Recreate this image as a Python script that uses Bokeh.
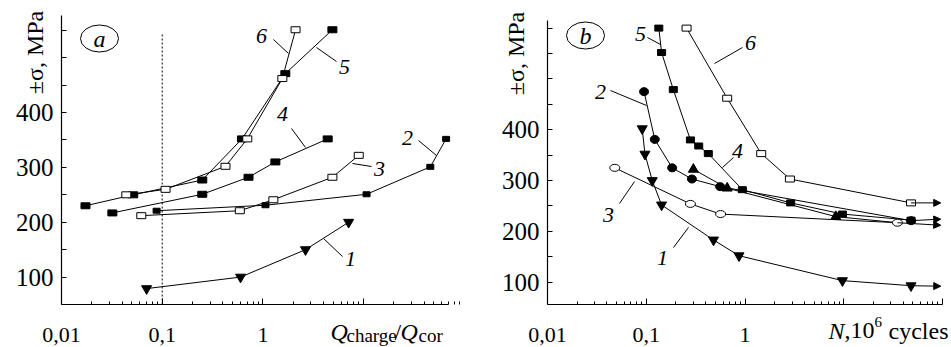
import math
from bokeh.plotting import figure
from bokeh.layouts import row
from bokeh.models import Range1d, FixedTicker, Arrow, NormalHead
from bokeh.embed import file_html
from bokeh.resources import INLINE
from bokeh.core.properties import value

# ---------------- data: panel a (stress vs Q_charge/Q_cor) ----------------
A1_X = [0.070, 0.60, 2.65, 7.1]
A1_Y = [79, 100, 150, 200]
A2_X = [0.088, 1.06, 10.7, 46, 66]
A2_Y = [221, 231, 251, 301, 352]
A3_X = [0.062, 0.59, 1.27, 4.9, 8.95]
A3_Y = [212, 221, 241, 282, 322]
A4_X = [0.032, 0.25, 0.72, 1.33, 4.4]
A4_Y = [217, 251, 282, 310, 352]
A5_X = [0.0173, 0.0515, 0.25, 0.62, 1.67, 4.9]
A5_Y = [230, 250, 277, 352, 471, 551]
A6_X = [0.044, 0.108, 0.425, 0.70, 1.56, 2.11]
A6_Y = [250, 260, 302, 352, 462, 551]
A_REF_X = 0.1
A_REF_Y = [50, 545]

# ---------------- data: panel b (stress vs N, 10^6 cycles) ----------------
B1_X = [0.091, 0.097, 0.115, 0.143, 0.48, 0.87, 9.7, 48]
B1_Y = [402, 352, 300, 252, 183, 152, 103, 93]
B2_X = [0.095, 0.122, 0.183, 0.29, 0.56, 48]
B2_Y = [475, 381, 325, 303, 288, 221]
B3_X = [0.048, 0.28, 0.566, 35]
B3_Y = [325, 254, 234, 217]
B4_X = [0.30, 0.66, 8.3, 35]
B4_Y = [322, 285, 229, 217]
B5_X = [0.134, 0.143, 0.188, 0.28, 0.34, 0.425, 0.94, 2.9, 9.7, 48]
B5_Y = [600, 552, 479, 380, 368, 353, 282, 256, 234, 222]
B6_X = [0.256, 0.66, 1.46, 2.85, 48]
B6_Y = [600, 462, 353, 303, 256]
# run-outs (arrows): start = last point of series, end at N_END
B_RUNOUT_SERIES = ["1", "6", "2", "3"]
B_RUNOUT_END_Y = [92, 256, 224, 212]
N_END = 96

# ---------------- ticks ----------------
X_TICKS_A = [0.01, 0.1, 1, 10]
X_TICKS_B = [0.01, 0.1, 1, 10, 100]
X_TICK_LABELS = {0.01: "0,01", 0.1: "0,1", 1: "1", 10: "", 100: ""}
Y_TICKS_A = list(range(100, 551, 50))
Y_TICKS_B = list(range(100, 601, 50))
Y_LABELED = [100, 200, 300, 400]

SERIF = "Liberation Serif"

# layout (page pixels): where the axes sit in the window
FA = dict(off=0, w=475, left=61, right=448, top=15, bottom=304)
FB = dict(off=475, w=476, left=547, right=942, top=20, bottom=304)
H = 347
AX_A = ((0.01, 69.7), (50, 577))     # axis extents (x, y) panel a
AX_B = ((0.01, 100), (56, 615))      # axis extents (x, y) panel b


def geometry(fr, ax):
    (x0, x1), (y0, y1) = ax
    lx0, lx1 = math.log10(x0), math.log10(x1)
    kx = (lx1 - lx0) / (fr["right"] - fr["left"])
    ky = (y1 - y0) / (fr["bottom"] - fr["top"])

    def conv(px, py):
        return 10 ** (lx0 + (px - fr["left"]) * kx), y0 + (fr["bottom"] - py) * ky

    xa, yb = conv(fr["off"], H)
    xb, yt = conv(fr["off"] + fr["w"], 0)
    return conv, (xa, xb), (yb, yt)


def make_fig(fr, ax, xticks, yticks):
    conv, xr, yr = geometry(fr, ax)
    p = figure(width=fr["w"], height=H, x_axis_type="log",
               x_range=Range1d(*xr), y_range=Range1d(*yr),
               output_backend="svg", toolbar_location=None,
               min_border_left=0, min_border_right=0,
               min_border_top=0, min_border_bottom=0)
    p.outline_line_color = None
    p.grid.visible = False
    p.background_fill_color = "white"
    p.border_fill_color = "white"
    minors = [k * 10 ** d for d in range(-2, 3) for k in range(2, 10)]
    p.xaxis.ticker = FixedTicker(ticks=xticks, minor_ticks=minors)
    p.xaxis.major_label_overrides = {t: X_TICK_LABELS[t] for t in xticks}
    p.yaxis.ticker = FixedTicker(ticks=yticks, minor_ticks=[])
    p.yaxis.major_label_overrides = {t: (str(t) if t in Y_LABELED else "") for t in yticks}
    p.xaxis.fixed_location = ax[1][0]
    p.xaxis.bounds = ax[0]
    p.yaxis.fixed_location = ax[0][0]
    p.yaxis.bounds = ax[1]
    for a in (p.xaxis, p.yaxis):
        a.axis_line_color = "black"
        a.axis_line_width = 1.2
        a.major_tick_line_color = "black"
        a.minor_tick_line_color = "black"
        a.major_tick_out = 0
        a.minor_tick_out = 0
        a.major_label_text_font = SERIF
        a.major_label_text_color = "black"
    p.xaxis.major_tick_in = 6
    p.xaxis.minor_tick_in = 3
    p.yaxis.major_tick_in = 5
    p.xaxis.major_label_text_font_size = "22px"
    p.yaxis.major_label_text_font_size = "25px"
    p.xaxis.major_label_standoff = 23
    p.yaxis.major_label_standoff = 8
    return p, conv


def rect_marks(p, x, y, filled, w=9, h=6):
    p.rect(x, y, width=w, height=h, width_units="screen", height_units="screen",
           fill_color="black" if filled else "white", line_color="black", line_width=1)


def ell_marks(p, x, y, filled, w=10, h=8):
    p.ellipse(x, y, width=w, height=h, width_units="screen", height_units="screen",
              fill_color="black" if filled else "white", line_color="black", line_width=1)


def tri_marks(p, x, y, marker):
    p.scatter(x, y, marker=marker, size=10, fill_color="black", line_color="black")


def put_text(p, conv, t, px, py, size, style="normal", align="center",
             baseline="middle", angle=0.0):
    x, y = conv(px, py)
    p.text([x], [y], text=[t], text_font=value(SERIF), text_font_style=style,
           text_font_size=size, text_align=align, text_baseline=baseline,
           angle=angle, text_color="black")


def annotate(p, conv, labels, leaders, circle, letter, ytitle_pos):
    for (t, px, py) in labels:
        put_text(p, conv, t, px, py, "22px", "italic")
    for (x0p, y0p, x1p, y1p) in leaders:
        x0, y0 = conv(x0p, y0p)
        x1, y1 = conv(x1p, y1p)
        p.segment([x0], [y0], [x1], [y1], line_color="black", line_width=1)
    cx, cy = conv(*circle)
    p.ellipse([cx], [cy], width=38, height=27, width_units="screen", height_units="screen",
              fill_color=None, line_color="black", line_width=1)
    put_text(p, conv, letter, circle[0], circle[1], "24px", "italic")
    put_text(p, conv, "±σ, MPa", ytitle_pos[0], ytitle_pos[1], "24px", angle=math.pi / 2)


def axis_title(p, conv, pieces):
    # pieces: text, left px, size, style, vertical centre px
    for (t, px, size, style, mid) in pieces:
        put_text(p, conv, t, px, mid, size, style, align="left", baseline="middle")


# ======================= panel a =======================
pa, conv_a = make_fig(FA, AX_A, X_TICKS_A, Y_TICKS_A)
pa.line([A_REF_X, A_REF_X], A_REF_Y, line_color="black", line_width=1, line_dash="2 2")
for xs, ys in [(A1_X, A1_Y), (A2_X, A2_Y), (A3_X, A3_Y), (A4_X, A4_Y), (A5_X, A5_Y), (A6_X, A6_Y)]:
    pa.line(xs, ys, line_color="black", line_width=1)
tri_marks(pa, A1_X, A1_Y, "inverted_triangle")
rect_marks(pa, A2_X, A2_Y, True, 7, 5)
rect_marks(pa, A4_X, A4_Y, True)
rect_marks(pa, A5_X, A5_Y, True)
rect_marks(pa, A3_X, A3_Y, False)
rect_marks(pa, A6_X, A6_Y, False)

annotate(pa, conv_a,
         [("6", 261, 35), ("5", 344, 66), ("4", 282, 113), ("2", 407, 137), ("3", 379, 168), ("1", 350, 258)],
         [(273, 39, 288, 53), (316, 47, 336, 61), (291, 128, 305, 147), (418, 140, 436, 155),
          (352, 163, 371, 166), (323, 238, 342, 256)],
         (99, 38), "a", (34, 52))
axis_title(pa, conv_a, [("Q", 330, "24px", "italic", 331), ("charge", 346, "19px", "normal", 335),
                        ("/", 394, "24px", "normal", 331), ("Q", 400, "24px", "italic", 331),
                        ("cor", 418, "19px", "normal", 335)])

# ======================= panel b =======================
pb, conv_b = make_fig(FB, AX_B, X_TICKS_B, Y_TICKS_B)
series_b = {"1": (B1_X, B1_Y), "2": (B2_X, B2_Y), "3": (B3_X, B3_Y),
            "4": (B4_X, B4_Y), "5": (B5_X, B5_Y), "6": (B6_X, B6_Y)}
for k, (xs, ys) in series_b.items():
    pb.line(xs, ys, line_color="black", line_width=1)
for k, yend in zip(B_RUNOUT_SERIES, B_RUNOUT_END_Y):
    xs, ys = series_b[k]
    pb.add_layout(Arrow(end=NormalHead(size=7, fill_color="black", line_color="black"),
                        x_start=xs[-1], y_start=ys[-1], x_end=N_END, y_end=yend,
                        line_color="black", line_width=1))
tri_marks(pb, B1_X, B1_Y, "inverted_triangle")
tri_marks(pb, B4_X[:-1], B4_Y[:-1], "triangle")
rect_marks(pb, B5_X, B5_Y, True, 8, 6)
rect_marks(pb, B6_X, B6_Y, False)
ell_marks(pb, B3_X, B3_Y, False, 10, 7)
ell_marks(pb, B2_X, B2_Y, True, 9, 8)

annotate(pb, conv_b,
         [("5", 640, 33), ("6", 750, 42), ("2", 600, 91), ("4", 737, 150), ("3", 608, 214), ("1", 662, 257)],
         [(647, 37, 660, 44), (742, 47, 714, 63), (610, 90, 646, 105), (733, 157, 722, 167),
          (619, 203, 634, 181), (673, 247, 688, 227)],
         (585, 35), "b", (515, 53))
axis_title(pb, conv_b, [("N", 828, "24px", "italic", 330), (",10", 844, "24px", "normal", 330),
                        ("6", 874, "15px", "normal", 321), ("cycles", 888, "24px", "normal", 330)])

layout = row(pa, pb)
open("out.html", "w").write(file_html(layout, INLINE))
